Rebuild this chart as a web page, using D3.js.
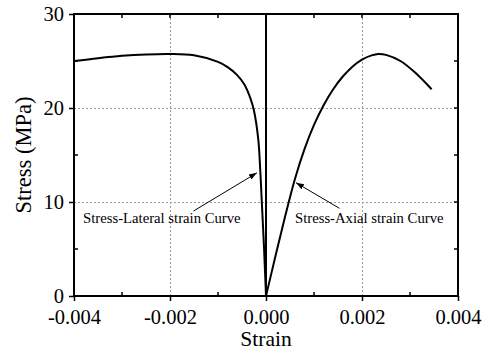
<!DOCTYPE html>
<html>
<head>
<meta charset="utf-8">
<script src="https://cdn.jsdelivr.net/npm/d3@7"></script>
<style>
  html, body { margin: 0; padding: 0; background: #fff; }
  svg { display: block; }
  text { font-family: "Liberation Serif", "Times New Roman", serif; fill: #000; }
</style>
</head>
<body>
<svg id="chart" width="491" height="350"></svg>
<script>
// Stress (MPa) versus strain for the lateral and axial measurements
const lateralStrain = [-0.004, -0.0035, -0.003, -0.0025, -0.002, -0.0015, -0.001, -0.0008, -0.0006, -0.00045, -0.00033, -0.00025, -0.00016, -0.00012, -0.0000875, -0.00004, 0];
const lateralStress = [25.0, 25.3, 25.55, 25.7, 25.75, 25.6, 24.9, 24.35, 23.5, 22.5, 21.1, 19.7, 16.6, 13.4, 10.0, 5.0, 0];

const axialStrain = [0, 0.0002, 0.0004, 0.0006, 0.0008, 0.001, 0.0012, 0.0014, 0.0016, 0.0018, 0.002, 0.0022, 0.00234, 0.0025, 0.0028, 0.0031, 0.00345];
const axialStress = [0, 4.3, 8.5, 12.4, 15.6, 18.2, 20.3, 22.0, 23.35, 24.4, 25.15, 25.6, 25.75, 25.65, 25.0, 23.8, 22.0];

const xTicks = [-0.004, -0.002, 0, 0.002, 0.004];
const xMinorTicks = [-0.003, -0.001, 0.001, 0.003];
const yTicks = [0, 10, 20, 30];
const yMinorTicks = [5, 15, 25];

// Annotation arrows: [label start strain, stress] -> [tip strain, stress]
const lateralArrow = [[-0.00151, 9.04], [-0.00019, 13.1]];
const axialArrow = [[0.00153, 9.33], [0.000625, 12.05]];
const lateralLabel = { text: "Stress-Lateral strain Curve", strain: -0.00381, stress: 7.75 };
const axialLabel = { text: "Stress-Axial strain Curve", strain: 0.000605, stress: 7.75 };

const margin = { top: 14, right: 33, bottom: 54, left: 74 };
const W = 491, H = 350;
const w = W - margin.left - margin.right;
const h = H - margin.top - margin.bottom;

const svg = d3.select("#chart");
const g = svg.append("g").attr("transform", `translate(${margin.left},${margin.top})`);

const x = d3.scaleLinear().domain([-0.004, 0.004]).range([0, w]);
const y = d3.scaleLinear().domain([0, 30]).range([h, 0]);

// dashed grid at the interior major ticks
const grid = g.append("g").attr("stroke", "#9a9a9a").attr("stroke-width", 1).attr("stroke-dasharray", "2,2");
grid.selectAll("line.gx").data([-0.002, 0.002]).join("line")
  .attr("x1", d => Math.round(x(d)) + 0.5).attr("x2", d => Math.round(x(d)) + 0.5)
  .attr("y1", 0).attr("y2", h);
grid.selectAll("line.gy").data([10, 20]).join("line")
  .attr("y1", d => Math.round(y(d)) + 0.5).attr("y2", d => Math.round(y(d)) + 0.5)
  .attr("x1", 0).attr("x2", w);

// zero-strain divider
g.append("line")
  .attr("x1", x(0)).attr("x2", x(0)).attr("y1", 0).attr("y2", h)
  .attr("stroke", "#000").attr("stroke-width", 2);

// curves
const line = d3.line().x(d => x(d[0])).y(d => y(d[1])).curve(d3.curveCatmullRom.alpha(0.5));
const lateral = lateralStrain.map((s, i) => [s, lateralStress[i]]);
const axial = axialStrain.map((s, i) => [s, axialStress[i]]);
[lateral, axial].forEach(data => {
  g.append("path").datum(data).attr("d", line)
    .attr("fill", "none").attr("stroke", "#000").attr("stroke-width", 2)
    .attr("stroke-linejoin", "round");
});

// arrow annotations
svg.append("defs").append("marker")
  .attr("id", "head").attr("viewBox", "0 0 10 10").attr("refX", 10).attr("refY", 5)
  .attr("markerWidth", 8).attr("markerHeight", 8).attr("markerUnits", "userSpaceOnUse")
  .attr("orient", "auto")
  .append("path").attr("d", "M0,1.5 L10,5 L0,8.5 Z").attr("fill", "#000");

[lateralArrow, axialArrow].forEach(a => {
  g.append("line")
    .attr("x1", x(a[0][0])).attr("y1", y(a[0][1]))
    .attr("x2", x(a[1][0])).attr("y2", y(a[1][1]))
    .attr("stroke", "#000").attr("stroke-width", 1)
    .attr("marker-end", "url(#head)");
});

[lateralLabel, axialLabel].forEach(l => {
  g.append("text").attr("x", x(l.strain)).attr("y", y(l.stress))
    .attr("font-size", "14.7px").text(l.text);
});

// axes
const fmt = d => d === 0 ? "0.000" : d3.format(".3f")(d).replace("\u2212", "-");

const xAxis = g.append("g").attr("transform", `translate(0,${h})`)
  .call(d3.axisBottom(x).tickValues(xTicks).tickFormat(fmt).tickSize(5).tickPadding(8).tickSizeOuter(0));
const yAxis = g.append("g")
  .call(d3.axisLeft(y).tickValues(yTicks).tickSize(5).tickPadding(5).tickSizeOuter(0));

[xAxis, yAxis].forEach(a => {
  a.select(".domain").remove();
  a.selectAll("line").attr("stroke", "#000").attr("stroke-width", 1.5);
  a.selectAll("text").attr("font-size", "20.5px").attr("font-family", "'Liberation Serif', 'Times New Roman', serif");
});

// minor and mirrored ticks pointing into the plot
const inner = g.append("g").attr("stroke", "#000").attr("stroke-width", 1.5);
inner.selectAll("line.bx").data(xMinorTicks).join("line")
  .attr("x1", d => x(d)).attr("x2", d => x(d)).attr("y1", h).attr("y2", h - 4);
inner.selectAll("line.tx").data(xMinorTicks.concat(xTicks)).join("line")
  .attr("x1", d => x(d)).attr("x2", d => x(d)).attr("y1", 0).attr("y2", 4);
inner.selectAll("line.ly").data(yMinorTicks).join("line")
  .attr("x1", 0).attr("x2", 4).attr("y1", d => y(d)).attr("y2", d => y(d));
inner.selectAll("line.ry").data(yMinorTicks.concat(yTicks)).join("line")
  .attr("x1", w).attr("x2", w - 4).attr("y1", d => y(d)).attr("y2", d => y(d));

// plot frame
g.append("rect").attr("x", 0).attr("y", 0).attr("width", w).attr("height", h)
  .attr("fill", "none").attr("stroke", "#000").attr("stroke-width", 2);

// axis titles
svg.append("text")
  .attr("x", margin.left + x(0)).attr("y", 346)
  .attr("text-anchor", "middle").attr("font-size", "21.5px").text("Strain");
svg.append("text")
  .attr("transform", `translate(31,${margin.top + h / 2}) rotate(-90)`)
  .attr("text-anchor", "middle").attr("font-size", "22.5px").text("Stress (MPa)");
</script>
</body>
</html>
